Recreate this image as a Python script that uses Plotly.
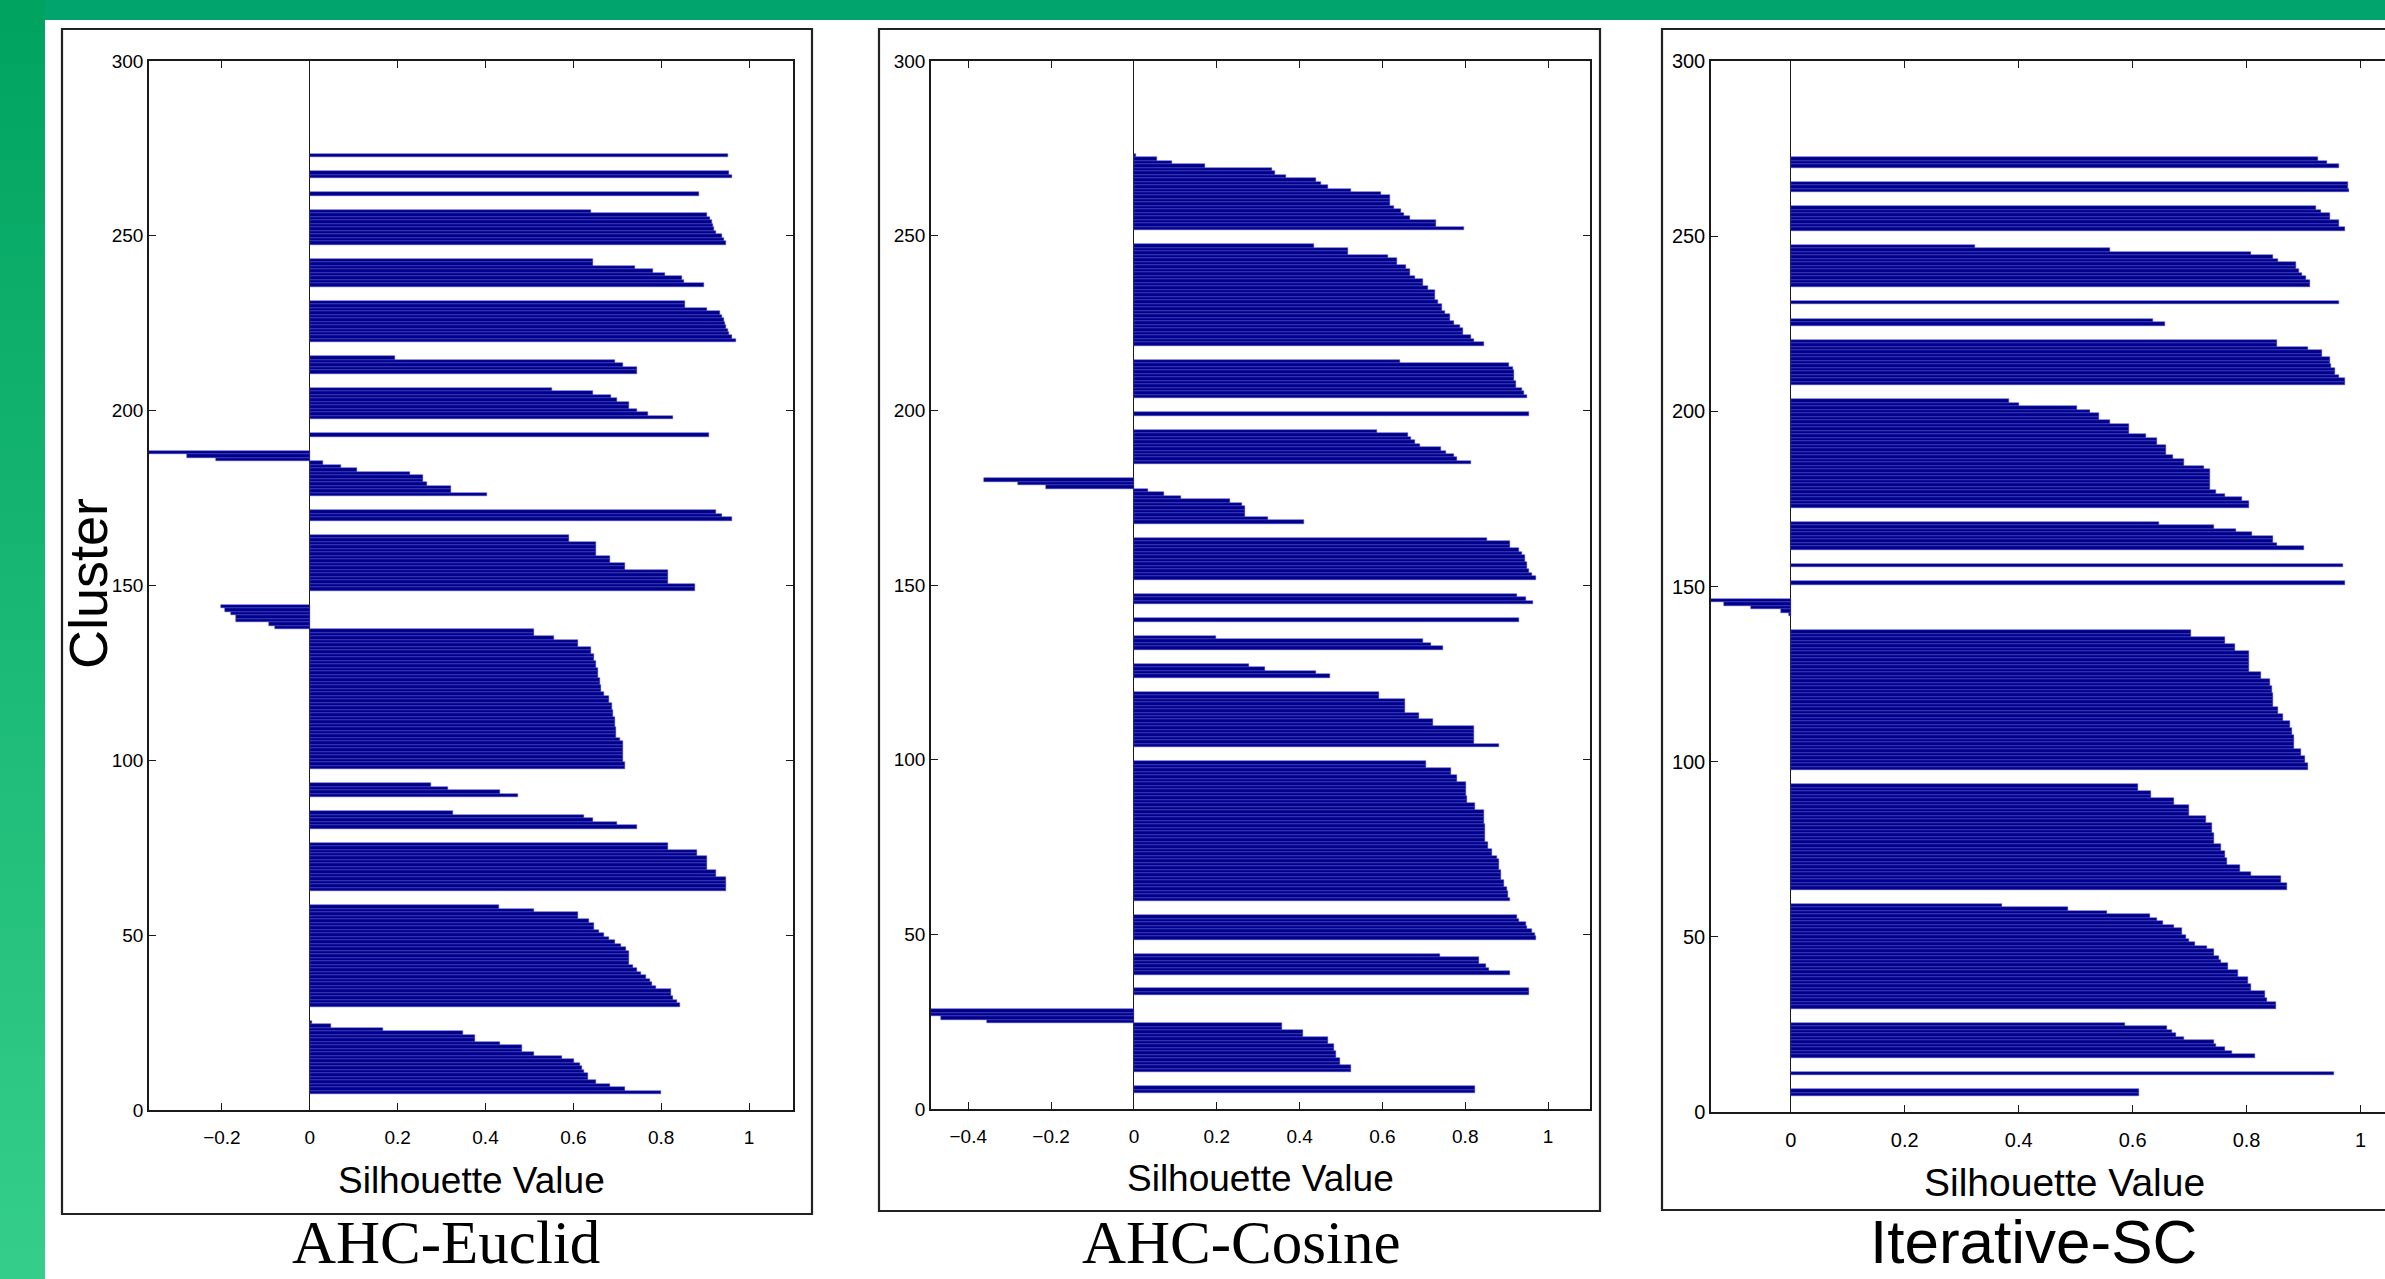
import plotly.graph_objects as go

W, H = 2385, 1279

# ---------------- data: silhouette values per cluster (bottom cluster first,
# values in plotted order: largest at the bottom of each cluster) -------------
euclid_clusters = [
    [0.799, 0.718, 0.684, 0.652, 0.634, 0.634, 0.625, 0.620, 0.614, 0.602, 0.574,
     0.510, 0.484, 0.484, 0.434, 0.377, 0.377, 0.349, 0.166, 0.049, 0.005],
    [0.842, 0.835, 0.826, 0.823, 0.823, 0.787, 0.780, 0.774, 0.765, 0.755, 0.745,
     0.735, 0.726, 0.726, 0.726, 0.726, 0.720, 0.708, 0.695, 0.680, 0.670, 0.659,
     0.648, 0.648, 0.635, 0.610, 0.610, 0.511, 0.430],
    [0.948, 0.948, 0.948, 0.948, 0.925, 0.925, 0.905, 0.905, 0.905, 0.905, 0.882,
     0.882, 0.815, 0.815],
    [0.745, 0.699, 0.644, 0.625, 0.326],
    [0.474, 0.434, 0.314, 0.275],
    [0.718, 0.718, 0.713, 0.713, 0.713, 0.713, 0.713, 0.713, 0.706, 0.698, 0.698,
     0.698, 0.695, 0.695, 0.695, 0.691, 0.691, 0.688, 0.688, 0.682, 0.682, 0.670,
     0.664, 0.664, 0.661, 0.661, 0.657, 0.657, 0.657, 0.652, 0.652, 0.648, 0.648,
     0.640, 0.640, 0.610, 0.610, 0.555, 0.511, 0.511,
     -0.080, -0.093, -0.167, -0.167, -0.179, -0.192, -0.201],
    [0.878, 0.878, 0.815, 0.815, 0.815, 0.815, 0.718, 0.718, 0.684, 0.684, 0.652,
     0.652, 0.652, 0.652, 0.590, 0.590],
    [0.960, 0.939, 0.925],
    [0.403, 0.322, 0.322, 0.267, 0.258, 0.258, 0.228, 0.108, 0.070, 0.030,
     -0.214, -0.280, -0.366],
    [0.909],
    [0.827, 0.769, 0.745, 0.726, 0.726, 0.699, 0.686, 0.644, 0.551],
    [0.745, 0.745, 0.713, 0.695, 0.194],
    [0.971, 0.960, 0.955, 0.952, 0.948, 0.945, 0.942, 0.938, 0.933, 0.904, 0.855, 0.855],
    [0.897, 0.851, 0.847, 0.808, 0.781, 0.740, 0.645, 0.645],
    [0.947, 0.943, 0.939, 0.924, 0.921, 0.918, 0.915, 0.910, 0.905, 0.641],
    [0.885],
    [0.960, 0.955],
    [0.951],
]

cosine_clusters = [
    [0.823, 0.823],
    [0.524, 0.524, 0.497, 0.497, 0.488, 0.488, 0.482, 0.482, 0.468, 0.468, 0.408,
     0.408, 0.358, 0.358, -0.355, -0.465, -0.490, -0.490],
    [0.955, 0.955],
    [0.908, 0.858, 0.851, 0.833, 0.833, 0.740],
    [0.970, 0.968, 0.960, 0.950, 0.946, 0.929, 0.925],
    [0.908, 0.903, 0.903, 0.901, 0.893, 0.893, 0.887, 0.887, 0.887, 0.882, 0.882,
     0.882, 0.877, 0.865, 0.865, 0.855, 0.855, 0.848, 0.848, 0.848, 0.848, 0.848,
     0.845, 0.845, 0.845, 0.845, 0.823, 0.823, 0.805, 0.805, 0.802, 0.802, 0.802,
     0.802, 0.781, 0.781, 0.765, 0.765, 0.705, 0.705],
    [0.882, 0.820, 0.820, 0.820, 0.820, 0.820, 0.723, 0.723, 0.689, 0.689, 0.655,
     0.655, 0.655, 0.655, 0.592, 0.592],
    [0.473, 0.439, 0.317, 0.279],
    [0.746, 0.718, 0.697, 0.199],
    [0.930],
    [0.963, 0.946, 0.926],
    [0.970, 0.960, 0.954, 0.949, 0.949, 0.944, 0.944, 0.937, 0.930, 0.909, 0.909, 0.853],
    [0.410, 0.323, 0.269, 0.269, 0.269, 0.261, 0.231, 0.113, 0.072, 0.034,
     -0.213, -0.281, -0.363],
    [0.815, 0.781, 0.772, 0.753, 0.742, 0.690, 0.678, 0.668, 0.662, 0.587],
    [0.954],
    [0.949, 0.943, 0.937, 0.923, 0.923, 0.917, 0.917, 0.917, 0.915, 0.906, 0.643],
    [0.845, 0.822, 0.815, 0.795, 0.795, 0.787, 0.774, 0.764, 0.764, 0.752, 0.745,
     0.745, 0.735, 0.728, 0.728, 0.728, 0.710, 0.698, 0.698, 0.678, 0.667, 0.667,
     0.658, 0.635, 0.635, 0.614, 0.517, 0.517, 0.435],
    [0.797, 0.729, 0.729, 0.667, 0.652, 0.645, 0.629, 0.619, 0.619, 0.619, 0.597,
     0.524, 0.468, 0.452, 0.439, 0.367, 0.341, 0.334, 0.172, 0.093, 0.055, 0.004],
]

iterative_clusters = [
    [0.611, 0.611],
    [0.953],
    [0.815, 0.775, 0.762, 0.746, 0.743, 0.690, 0.677, 0.669, 0.660, 0.587],
    [0.851, 0.851, 0.836, 0.832, 0.832, 0.808, 0.808, 0.802, 0.802, 0.785, 0.785,
     0.768, 0.768, 0.755, 0.752, 0.743, 0.743, 0.730, 0.709, 0.699, 0.693, 0.686,
     0.686, 0.673, 0.654, 0.643, 0.631, 0.555, 0.486, 0.371],
    [0.871, 0.871, 0.860, 0.860, 0.808, 0.788, 0.788, 0.765, 0.765, 0.762, 0.762,
     0.755, 0.755, 0.743, 0.743, 0.743, 0.739, 0.739, 0.739, 0.728, 0.728, 0.699,
     0.699, 0.699, 0.672, 0.672, 0.633, 0.633, 0.610, 0.610],
    [0.907, 0.907, 0.902, 0.902, 0.896, 0.896, 0.883, 0.883, 0.883, 0.883, 0.880,
     0.880, 0.877, 0.877, 0.864, 0.864, 0.856, 0.856, 0.847, 0.847, 0.847, 0.847,
     0.845, 0.845, 0.841, 0.841, 0.825, 0.825, 0.805, 0.805, 0.805, 0.805, 0.805,
     0.805, 0.779, 0.779, 0.762, 0.762, 0.702, 0.702],
    [-0.003, -0.017, -0.070, -0.118, -0.140],
    [0.973],
    [0.969],
    [0.900, 0.854, 0.847, 0.847, 0.810, 0.781, 0.742, 0.647],
    [0.805, 0.805, 0.792, 0.763, 0.746, 0.735, 0.735, 0.735, 0.735, 0.735, 0.735,
     0.726, 0.691, 0.691, 0.671, 0.658, 0.658, 0.658, 0.643, 0.643, 0.623, 0.593,
     0.593, 0.593, 0.561, 0.541, 0.541, 0.525, 0.503, 0.400, 0.383],
    [0.973, 0.973, 0.962, 0.955, 0.955, 0.949, 0.946, 0.946, 0.932, 0.932, 0.907,
     0.854, 0.854],
    [0.656, 0.636],
    [0.962],
    [0.912, 0.912, 0.904, 0.898, 0.892, 0.887, 0.887, 0.856, 0.847, 0.808, 0.561, 0.324],
    [0.973, 0.962, 0.962, 0.946, 0.946, 0.931, 0.922],
    [0.979, 0.978, 0.978],
    [0.962, 0.942, 0.926],
]

panel_titles = ["AHC-Euclid", "AHC-Cosine", "Iterative-SC"]
x_axis_title = "Silhouette Value"
y_axis_title = "Cluster"
y_ticks = [0, 50, 100, 150, 200, 250, 300]


def silhouette_layout(clusters):
    """MATLAB silhouette ordering: blank rows between clusters."""
    n = sum(len(c) for c in clusters)
    space = max(n // 50, 2)
    xs, ys = [], []
    pos = space
    for c in clusters:
        for v in c:
            pos += 1
            xs.append(v)
            ys.append(pos)
        pos += space
    return xs, ys


BAR = "rgb(0,0,138)"
EDGE = "rgb(70,70,200)"
AX = "#1a1a1a"
SANS = "Liberation Sans, Arial, Helvetica, sans-serif"

fig = go.Figure()

panels = [
    dict(x0=149, x1=793, y0=61, y1=1110, frame=(62, 29, 812, 1214), fs=19, tfs=37,
         tx=471, ty=1180),
    dict(x0=931, x1=1589.5, y0=61, y1=1109, frame=(879, 29, 1600, 1211), fs=19, tfs=37,
         tx=1260, ty=1178),
    dict(x0=1711, x1=2385, y0=61, y1=1112, frame=(1662, 29, 2440, 1210), fs=20, tfs=39,
         tx=2064, ty=1182),
]
data_sets = [euclid_clusters, cosine_clusters, iterative_clusters]

for i, (clusters, p) in enumerate(zip(data_sets, panels)):
    xs, ys = silhouette_layout(clusters)
    sfx = "" if i == 0 else str(i + 1)
    fig.add_trace(go.Bar(
        x=xs, y=ys, orientation="h", width=1.0,
        marker=dict(color=BAR, line=dict(color=EDGE, width=0.5)),
        xaxis="x" + sfx, yaxis="y" + sfx, showlegend=False, hoverinfo="skip",
    ))
    xmin = min(0.0, min(xs))
    xmax = 1.1 if i < 2 else 1.043  # third panel is cut by the page edge
    common_tick = dict(ticks="inside", ticklen=7, tickwidth=1, tickcolor=AX,
                       showline=True, linecolor=AX, linewidth=1.5, showgrid=False,
                       automargin=False,
                       tickfont=dict(family=SANS, size=p["fs"], color="black"))
    fig.layout["xaxis" + sfx] = dict(
        domain=[p["x0"] / W, p["x1"] / W], range=[xmin, xmax], anchor="y" + sfx,
        tick0=0, dtick=0.2, mirror="ticks", zeroline=True, zerolinecolor=AX,
        zerolinewidth=1, ticklabelstandoff=9, **common_tick)
    fig.layout["yaxis" + sfx] = dict(
        domain=[1 - p["y1"] / H, 1 - p["y0"] / H], range=[0, 300], anchor="x" + sfx,
        tickvals=y_ticks, mirror="ticks" if i < 2 else False, zeroline=False,
        ticklabelstandoff=0, **common_tick)
    fx0, fy0, fx1, fy1 = p["frame"]
    fig.add_shape(type="rect", xref="paper", yref="paper",
                  x0=fx0 / W, x1=fx1 / W, y0=1 - fy1 / H, y1=1 - fy0 / H,
                  line=dict(color="#222222", width=2.2), fillcolor="rgba(0,0,0,0)")
    fig.add_annotation(text=x_axis_title, xref="paper", yref="paper",
                       x=p["tx"] / W, y=1 - p["ty"] / H, xanchor="center",
                       yanchor="middle", showarrow=False,
                       font=dict(family=SANS, size=p["tfs"], color="black"))

fig.add_annotation(text=y_axis_title, xref="paper", yref="paper", x=88 / W,
                   y=1 - 584 / H, textangle=-90, showarrow=False, xanchor="center",
                   yanchor="middle",
                   font=dict(family=SANS, size=54, color="black"))

# panel captions (kept fully inside the page)
cap = [
    dict(x=446, fam="Liberation Serif, Times New Roman, serif", size=61),
    dict(x=1241, fam="Liberation Serif, Times New Roman, serif", size=61),
    dict(x=2033, fam=SANS, size=62),
]
for t, c in zip(panel_titles, cap):
    fig.add_annotation(text=t, xref="paper", yref="paper", x=c["x"] / W,
                       y=1 / H, xanchor="center", yanchor="bottom",
                       showarrow=False,
                       font=dict(family=c["fam"], size=c["size"], color="black"))

# slide decoration: green top band and left gradient strip
fig.add_shape(type="rect", xref="paper", yref="paper", x0=0, x1=1,
              y0=1 - 20 / H, y1=1, line=dict(width=0), fillcolor="#00a46c",
              layer="below")
nseg = 40
c_top = (0, 164, 96)
c_bot = (52, 206, 138)
for k in range(nseg):
    f = k / (nseg - 1)
    col = tuple(round(a + (b - a) * f) for a, b in zip(c_top, c_bot))
    fig.add_shape(type="rect", xref="paper", yref="paper", x0=0, x1=45 / W,
                  y0=1 - (k + 1) / nseg - 0.001, y1=1 - k / nseg,
                  line=dict(width=0), fillcolor="rgb(%d,%d,%d)" % col, layer="below")

fig.update_layout(
    template="none",
    width=W, height=H, margin=dict(l=0, r=0, t=0, b=0, pad=0, autoexpand=False),
    paper_bgcolor="white", plot_bgcolor="white", bargap=0, showlegend=False,
)

# pin the figure to the page corner so the page is exactly the figure size
post = (
    "var gd=document.getElementById('{plot_id}');"
    "var wrap=gd.parentNode;"
    "document.documentElement.style.cssText='margin:0;padding:0;height:100%;';"
    "document.body.style.cssText='margin:0;padding:0;height:100%;background:white;';"
    "document.body.appendChild(gd);"
    "if(wrap&&wrap!==document.body){wrap.style.display='none';}"
    "gd.style.position='fixed';gd.style.left='0px';gd.style.top='0px';"
)

fig.write_html("out.html", post_script=post, config={"displayModeBar": False})
